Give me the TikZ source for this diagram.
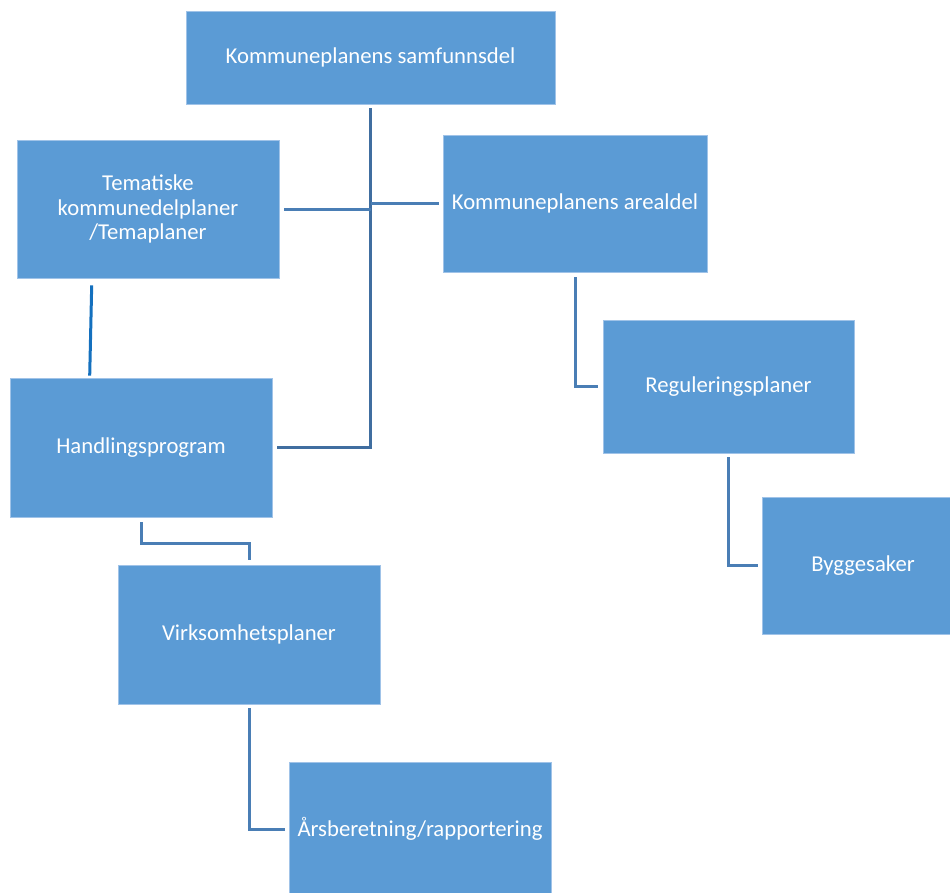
\documentclass[tikz,border=0pt]{standalone}
\usepackage{fontspec}
\setmainfont{Carlito}
\usepackage{tikz}
\definecolor{boxblue}{RGB}{91,155,213}
\definecolor{boxrim}{RGB}{160,195,232}
\definecolor{linkblue}{RGB}{74,126,181}
\definecolor{spineblue}{RGB}{64,110,160}
\definecolor{brightlink}{RGB}{20,112,190}
\begin{document}
\begin{tikzpicture}[x=1pt,y=-1pt]
			\tikzstyle{every node}+=[inner sep=0pt]
			\tikzstyle{planbox}=[rectangle,fill=boxblue,draw=boxrim,line width=0.6pt,text=white,font=\fontsize{22.7}{24.5}\selectfont,align=center]
			\tikzstyle{link}=[linkblue,line width=3pt]
			\useasboundingbox (0,0) rectangle (950,892);
			\clip (0,0) rectangle (950,892);
			\node [planbox,minimum width=369pt,minimum height=93pt] (samf) at (370.5,57.5) {Kommuneplanens samfunnsdel};
			\node [planbox,minimum width=262pt,minimum height=138pt] (tema) at (148,209) {Tematiske\\kommunedelplaner\\/Temaplaner};
			\node [planbox,minimum width=264pt,minimum height=137pt] (areal) at (575,203.5) {Kommuneplanens arealdel};
			\node [planbox,minimum width=262pt,minimum height=139pt] (handl) at (141,447.5) {Handlingsprogram};
			\node [planbox,minimum width=251pt,minimum height=133pt] (regul) at (728.5,386.5) {Reguleringsplaner};
			\node [planbox,minimum width=202pt,minimum height=137pt] (bygg) at (863,565.5) {Byggesaker};
			\node [planbox,minimum width=262pt,minimum height=139pt] (virk) at (249,634.5) {Virksomhetsplaner};
			\node [planbox,minimum width=262pt,minimum height=134pt] (aars) at (420,829) {Årsberetning/rapportering};
			\draw [link,spineblue] ([yshift=-4pt]samf.south) |- ([xshift=5pt]handl.east);
			\draw [link] ([xshift=5pt]tema.east) -- (tema.east -| samf.south);
			\draw [link] ([xshift=-4pt]areal.west) -- (areal.west -| samf.south);
			\draw [link,brightlink] ([xshift=75pt,yshift=-7pt]tema.south west) -- ([xshift=80pt,yshift=2pt]handl.north west);
			\draw [link] ([yshift=-5pt]handl.south) -- ++(0,21) -| ([yshift=5pt]virk.north);
			\draw [link] ([yshift=-4pt]virk.south) |- ([xshift=-4pt]aars.west);
			\draw [link] ([yshift=-5pt]areal.south) |- ([xshift=-5pt]regul.west);
			\draw [link] ([yshift=-4pt]regul.south) |- ([xshift=-4pt]bygg.west);
			\end{tikzpicture}
\end{document}
